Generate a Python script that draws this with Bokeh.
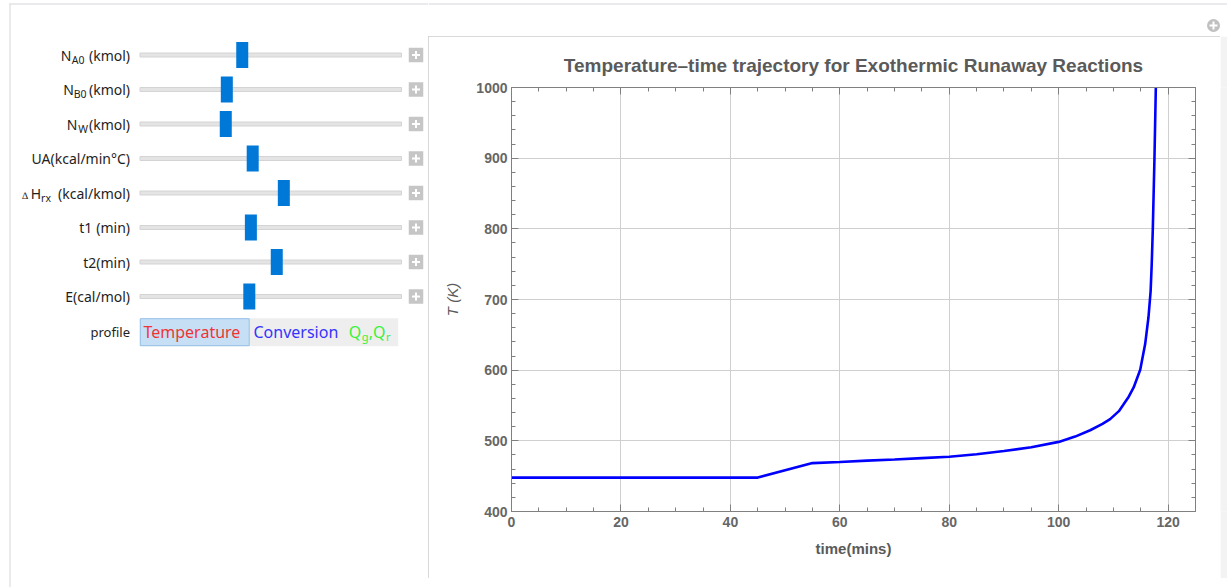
from bokeh.plotting import figure
from bokeh.models import Range1d, FixedTicker, LinearAxis, ColumnDataSource, CustomLabelingPolicy
from bokeh.layouts import row, column
from bokeh.embed import file_html
from bokeh.resources import INLINE
from bokeh.core.properties import value

# ---------------- data ----------------
time_min = [0, 45, 55, 60, 65, 70, 75, 80, 85, 90, 95, 100, 103, 105.75, 108,
            109.4, 111, 111.8, 112.8, 113.7, 114.9, 115.8, 116.4, 116.8, 117.0,
            117.2, 117.5, 117.75]
temp_K = [448, 448, 468.5, 470, 472, 473.5, 475.5, 477.5, 481, 485.5, 491, 498.5,
          506, 515, 524, 530.7, 542, 551, 562.5, 575.5, 600.5, 636.9, 674.5, 712,
          750, 800, 900, 1000]

x_major_ticks = [0, 20, 40, 60, 80, 100, 120]
x_minor_ticks = list(range(0, 126, 5))
y_major_ticks = [400, 500, 600, 700, 800, 900, 1000]
y_minor_ticks = list(range(400, 1001, 20))

# slider settings (fraction of slider travel)
slider_keys = ["NA0", "NB0", "NW", "UA", "dHrx", "t1", "t2", "E"]
slider_fraction = [0.391, 0.332, 0.328, 0.431, 0.550, 0.424, 0.523, 0.418]
profile_options = ["Temperature", "Conversion"]

FONT_UI = "Noto Sans"
FONT_PLOT = "Liberation Sans"
FRAME = "#d6d6dc"


def blank(width, height, xr, yr, bg="white"):
    f = figure(width=width, height=height, x_range=Range1d(*xr), y_range=Range1d(*yr),
               min_border=0, toolbar_location=None, output_backend="svg",
               x_axis_type=None, y_axis_type=None, outline_line_color=None)
    f.background_fill_color = bg
    f.border_fill_color = bg
    return f


# ---------------- left control panel ----------------
left = blank(428, 587, (0, 428), (587, 0))

# outer frame
left.segment(x0=[9.5, 9], y0=[3, 3.5], x1=[9.5, 428], y1=[587, 3.5],
             line_color=FRAME, line_width=1)

row_y = [54.5 + i * 34.5 for i in range(len(slider_keys))]
track_l, track_r = 139.5, 401
thumb_x = [track_l + f * (track_r - track_l) for f in slider_fraction]

left.quad(left=[track_l] * len(row_y), right=[track_r] * len(row_y),
          top=[y - 2 for y in row_y], bottom=[y + 2 for y in row_y],
          fill_color="#e4e4e4", line_color="#d4d4d4", line_width=1)
left.rect(x=thumb_x, y=row_y, width=12, height=26,
          fill_color="#0078d7", line_color=None)
# plus buttons
left.rect(x=[415.5] * len(row_y), y=row_y, width=14.5, height=14.5,
          fill_color="#c6c6c6", line_color=None)
left.rect(x=[415.5] * len(row_y), y=row_y, width=8, height=2,
          fill_color="white", line_color=None)
left.rect(x=[415.5] * len(row_y), y=row_y, width=2, height=8,
          fill_color="white", line_color=None)

# labels (right aligned pieces)
main_txt = ["N", "(kmol)", "N", "(kmol)", "N", "(kmol)", "UA(kcal/min°C)",
            "H", "(kcal/kmol)", "t1", "(min)", "t2(min)", "E(cal/mol)"]
main_x = [71, 129.5, 73.3, 129.5, 76.8, 129.5, 129.5, 40.5, 129.5, 91.7, 129.5, 129.5, 129.5]
main_row = [0, 0, 1, 1, 2, 2, 3, 4, 4, 5, 5, 6, 7]
left.text(x=main_x, y=[row_y[r] for r in main_row], text=main_txt,
          text_align="right", text_baseline="middle",
          text_font=value(FONT_UI), text_font_size="14px", text_color="#1e1e1e")
sub_txt = ["A0", "B0", "W", "rx"]
sub_x = [84, 86, 87.5, 50.5]
sub_row = [0, 1, 2, 4]
left.text(x=sub_x, y=[row_y[r] + 4.5 for r in sub_row], text=sub_txt,
          text_align="right", text_baseline="middle",
          text_font=value(FONT_UI), text_font_size="10.5px", text_color="#1e1e1e")
left.text(x=[27.5], y=[row_y[4] + 2], text=["∆"], text_align="right",
          text_baseline="middle", text_font=value(FONT_UI),
          text_font_size="10px", text_color="#1e1e1e")

# profile setter bar
prof_y = 331
left.text(x=[129.5], y=[prof_y], text=["profile"], text_align="right",
          text_baseline="middle", text_font=value(FONT_UI),
          text_font_size="13px", text_color="#1e1e1e")
left.quad(left=[139.3], right=[397.7], top=[317.7], bottom=[345.7],
          fill_color="#eeeeee", line_color=None)
left.quad(left=[139.8], right=[248.7], top=[318.2], bottom=[345.2],
          fill_color="#c7dff5", line_color="#94c0e8", line_width=1)
left.text(x=[143, 253], y=[prof_y, prof_y], text=profile_options,
          text_color=["#f03434", "#3434ff"], text_align="left",
          text_baseline="middle", text_font=value(FONT_UI), text_font_size="16px")
left.text(x=[348.3, 368.3, 372.5], y=[prof_y] * 3, text=["Q", ",", "Q"],
          text_color="#3cf03c", text_align="left", text_baseline="middle",
          text_font=value(FONT_UI), text_font_size="16px")
left.text(x=[361.3, 385.5], y=[prof_y + 5, prof_y + 5], text=["g", "r"],
          text_color="#3cf03c", text_align="left", text_baseline="middle",
          text_font=value(FONT_UI), text_font_size="11px")

# ---------------- top strip with icon ----------------
top = blank(799, 36, (428, 1227), (36, 0))
top.segment(x0=[428], y0=[3.5], x1=[1227], y1=[3.5], line_color=FRAME, line_width=1)
top.scatter(x=[1213], y=[25], size=13, marker="circle",
            fill_color="#c0c0c0", line_color=None)
top.scatter(x=[1213], y=[25], size=8, marker="cross",
            line_color="white", line_width=2)

band = blank(7, 542, (0, 1), (0, 1), bg="#f3f3f3")
bottom = blank(799, 9, (0, 1), (0, 1))

# ---------------- main plot ----------------
p = figure(width=792, height=542, x_range=Range1d(0, 125), y_range=Range1d(400, 1000),
           min_border_left=83, min_border_right=25, min_border_top=51,
           min_border_bottom=67, toolbar_location=None, output_backend="svg",
           styles={"outline": "1px solid #cccccc", "outline-offset": "-1px"})
p.background_fill_color = "white"
p.border_fill_color = "white"
p.outline_line_color = None

p.title.text = "Temperature–time trajectory for Exothermic Runaway Reactions"
p.title.align = "center"
p.title.text_font = FONT_PLOT
p.title.text_font_size = "19px"
p.title.text_font_style = "bold"
p.title.text_color = "#5a5a5a"
p.title.standoff = 23

src = ColumnDataSource(dict(t=time_min, T=temp_K))
p.line("t", "T", source=src, line_color="#0000ff", line_width=2.6)

xt = FixedTicker(ticks=x_major_ticks, minor_ticks=x_minor_ticks)
yt = FixedTicker(ticks=y_major_ticks, minor_ticks=y_minor_ticks)

hide_labels = CustomLabelingPolicy(code="""
try { for (let i = 0; i < indices.size; i++) { indices.unset(i) } } catch (e) {}
return indices
""")
p.add_layout(LinearAxis(major_label_policy=hide_labels), "above")
p.add_layout(LinearAxis(major_label_policy=hide_labels), "right")

for ax in p.xaxis:
    ax.ticker = xt
for ax in p.yaxis:
    ax.ticker = yt
for ax in p.axis:
    ax.axis_line_color = "#808080"
    ax.major_tick_line_color = "#808080"
    ax.minor_tick_line_color = "#808080"
    ax.major_tick_in = 7
    ax.major_tick_out = 0
    ax.minor_tick_in = 4
    ax.minor_tick_out = 0
    ax.major_label_text_font = FONT_PLOT
    ax.major_label_text_font_size = "14px"
    ax.major_label_text_font_style = "bold"
    ax.major_label_text_color = "#666666"
    ax.axis_label_text_font = FONT_PLOT
    ax.axis_label_text_color = "#5a5a5a"

p.above[0].major_label_text_font_size = "0px"
p.right[0].major_label_text_font_size = "0px"

p.below[0].axis_label = "time(mins)"
p.below[0].axis_label_text_font_size = "15px"
p.below[0].axis_label_text_font_style = "bold"
p.below[0].major_label_standoff = 5
p.below[0].axis_label_standoff = 10

p.left[0].axis_label = "T (K)"
p.left[0].axis_label_text_font_size = "15px"
p.left[0].axis_label_text_font_style = "italic"
p.left[0].major_label_standoff = 4
p.left[0].axis_label_standoff = 12

p.xgrid.ticker = xt
p.ygrid.ticker = yt
p.grid.grid_line_color = "#cfcfcf"
p.grid.grid_line_width = 1

right_col = column(top, row(p, band, spacing=0), bottom, spacing=0)
layout = row(left, right_col, spacing=0)
open("out.html", "w").write(file_html(layout, INLINE))
